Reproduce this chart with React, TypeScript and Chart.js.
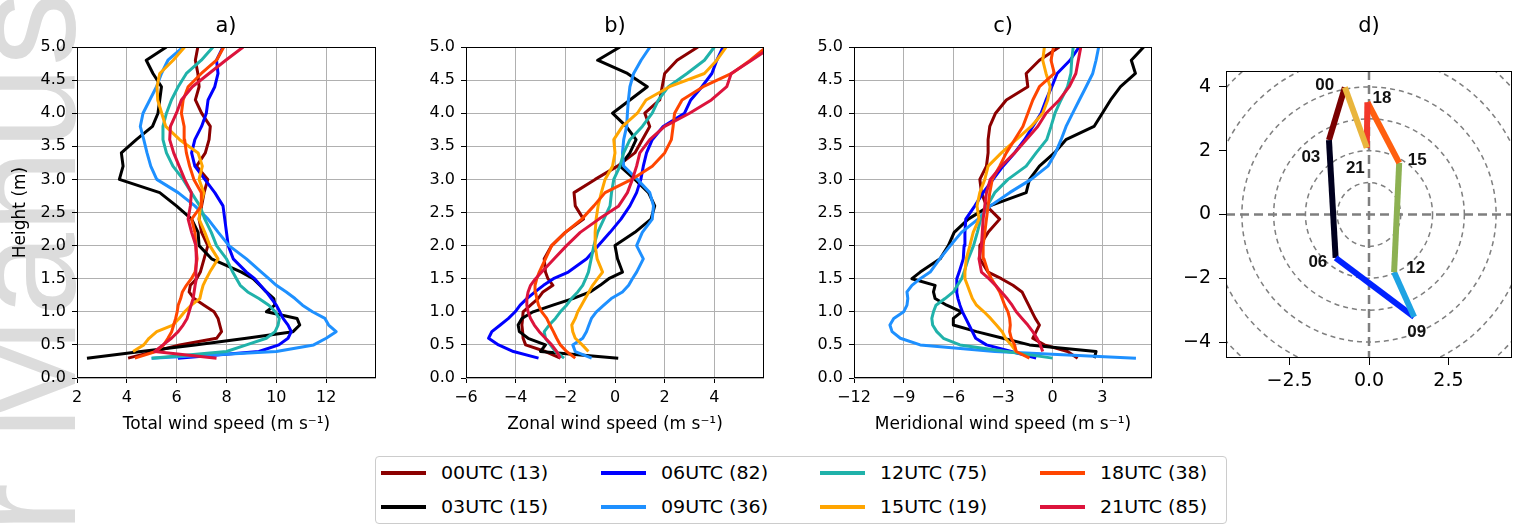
import React, { useEffect, useRef } from 'react';
import { Chart, registerables } from 'chart.js';

Chart.register(...registerables);

// ---------------- data ----------------
const heights = [0.3, 0.4, 0.5, 0.6, 0.7, 0.8, 0.9, 1.0, 1.1, 1.2, 1.3, 1.4, 1.5, 1.6, 1.8, 2.0, 2.2, 2.4, 2.6, 2.8, 3.0, 3.2, 3.4, 3.6, 3.8, 4.0, 4.2, 4.4, 4.6, 4.8, 5.0];
const yTickValues = [0, 0.5, 1, 1.5, 2, 2.5, 3, 3.5, 4, 4.5, 5];

const legendLabels = ['00UTC (13)', '03UTC (15)', '06UTC (82)', '09UTC (36)', '12UTC (75)', '15UTC (19)', '18UTC (38)', '21UTC (85)'];
const seriesColors = ['#8B0000', '#000000', '#0000FF', '#1E90FF', '#20B2AA', '#FFA500', '#FF4500', '#DC143C'];

// a) total wind speed
const tot00 = [4.05, 5.1, 6.12, 7.6, 7.8, 7.73, 7.66, 7.5, 7.1, 6.7, 6.5, 6.55, 6.8, 6.95, 7.1, 7.25, 7.0, 6.9, 7.0, 7.1, 7.25, 6.8, 7.15, 7.3, 7.35, 7.0, 6.75, 6.9, 6.85, 6.75, 6.85];
const tot03 = [2.4, 4.57, 6.74, 8.8, 10.67, 10.94, 10.83, 9.6, 9.94, 9.9, 9.6, 9.34, 9.07, 8.6, 7.4, 6.9, 6.86, 6.6, 5.99, 5.32, 3.7, 3.85, 3.78, 4.38, 5.03, 5.25, 5.32, 5.39, 5.05, 4.78, 5.59];
const tot06 = [6.05, 9.3, 10.1, 10.47, 10.6, 10.47, 10.27, 10.14, 10.0, 9.8, 9.6, 9.36, 9.13, 8.8, 8.27, 8.07, 8.0, 7.93, 7.86, 7.53, 7.13, 6.73, 6.6, 6.73, 7.0, 7.19, 7.26, 7.53, 7.66, 7.6, 7.86];
const tot09 = [4.99, 10.0, 11.5, 12.0, 12.4, 12.1, 11.95, 11.45, 11.05, 10.75, 10.4, 10.0, 9.7, 9.4, 8.8, 8.1, 7.67, 7.26, 6.73, 6.06, 5.2, 4.96, 4.81, 4.68, 4.54, 4.65, 4.92, 5.19, 5.39, 5.65, 6.26];
const tot12 = [5.0, 8.0, 8.8, 9.6, 9.95, 10.07, 10.12, 9.96, 9.7, 9.3, 8.85, 8.55, 8.4, 8.25, 8.0, 7.6, 7.39, 7.13, 6.93, 6.59, 6.26, 5.85, 5.59, 5.45, 5.45, 5.59, 5.79, 6.06, 6.39, 6.99, 7.46];
const tot15 = [null, 4.25, 4.68, 4.89, 5.2, 5.85, 6.1, 6.32, 6.59, 6.93, 6.99, 7.06, 7.19, 7.33, 7.66, 7.33, 7.13, 6.9, 6.95, 7.09, 6.9, 7.03, 6.86, 6.12, 5.56, 5.4, 5.24, 5.21, 5.32, 5.86, 6.32];
const tot18 = [4.32, 5.16, 5.48, 5.65, 5.8, 5.88, 5.96, 6.02, 6.06, 6.16, 6.23, 6.39, 6.59, 6.74, 6.82, 6.77, 6.73, 6.6, 6.99, 6.99, 6.69, 6.52, 6.39, 6.32, 6.3, 6.19, 6.26, 6.46, 6.99, 7.6, 7.89];
const tot21 = [7.6, 5.12, 5.45, 5.79, 6.06, 6.26, 6.42, 6.5, 6.58, 6.66, 6.7, 6.74, 6.79, 6.77, 6.79, 6.77, 6.6, 6.46, 6.55, 6.59, 6.32, 6.1, 5.88, 5.72, 5.75, 5.99, 6.19, 6.63, 7.3, 7.97, 8.67];

// b) zonal wind speed
const zon00 = [-2.2, -2.8, -3.6, -3.7, -3.72, -3.75, -3.72, -3.7, -3.4, -3.1, -2.9, -2.5, -2.7, -2.8, -2.85, -2.55, -2.0, -1.27, -1.6, -1.65, -0.8, 0.1, 0.8, 1.1, 1.4, 1.2, 1.8, 1.9, 2.0, 2.5, 3.34];
const zon03 = [0.13, -3.0, -2.8, -3.5, -3.85, -3.9, -3.75, -3.3, -2.5, -1.7, -1.0, -0.6, -0.25, 0.3, 0.1, 0.0, 0.8, 1.45, 1.6, 1.35, 0.8, 0.2, 0.6, 0.85, 0.45, -0.1, 0.6, 1.3, 0.5, -0.7, 0.2];
const zon06 = [-3.08, -4.09, -4.69, -5.09, -4.96, -4.62, -4.29, -4.02, -3.82, -3.55, -3.22, -2.88, -2.48, -1.88, -1.14, -0.67, -0.2, 0.24, 0.6, 0.87, 1.04, 1.14, 1.27, 1.5, 1.94, 2.8, 3.05, 3.5, 3.9, 4.1, 4.35];
const zon09 = [-0.94, -1.6, -1.7, -1.3, -1.15, -1.05, -0.95, -0.75, -0.45, -0.15, 0.3, 0.55, 0.7, 0.87, 1.14, 0.87, 1.1, 1.5, 1.55, 1.4, 0.9, 0.35, 0.3, 0.35, 0.47, 0.5, 0.54, 0.6, 0.75, 1.05, 1.41];
const zon12 = [-2.05, -2.4, -2.6, -2.8, -2.85, -2.65, -2.4, -2.2, -1.95, -1.75, -1.5, -1.3, -1.18, -1.07, -0.96, -0.85, -0.7, -0.45, -0.2, -0.14, -0.05, 0.2, 0.35, 0.6, 1.1, 1.5, 1.75, 2.15, 2.9, 3.6, 4.0];
const zon15 = [null, -1.07, -1.32, -1.6, -1.7, -1.74, -1.6, -1.5, -1.35, -1.2, -1.05, -0.9, -0.7, -0.5, -0.72, -0.8, -0.8, -0.76, -0.68, -0.55, -0.4, -0.1, 0.0, -0.05, 0.3, 0.9, 1.25, 2.2, 3.6, 4.1, 4.48];
const zon18 = [-1.6, -1.95, -2.2, -2.35, -2.48, -2.62, -2.75, -2.95, -3.08, -3.15, -3.2, -3.22, -3.15, -3.05, -2.8, -2.55, -2.0, -1.34, -0.85, -0.4, 0.67, 1.5, 2.0, 2.27, 2.34, 2.4, 2.7, 3.55, 4.7, 5.45, 6.1];
const zon21 = [-2.2, -2.35, -2.55, -2.8, -3.05, -3.25, -3.4, -3.5, -3.55, -3.55, -3.5, -3.4, -3.2, -2.95, -2.45, -1.95, -1.4, -0.65, 0.15, 0.5, 0.7, 0.87, 1.0, 1.4, 2.0, 3.0, 3.88, 4.5, 4.68, 5.5, 6.3];

// c) meridional wind speed
const mer00 = [1.51, 0.9, -0.5, -1.2, -1.0, -0.8, -1.05, -1.25, -1.45, -1.65, -1.85, -2.4, -3.1, -3.9, -4.4, -4.4, -3.9, -3.2, -4.0, -4.3, -4.4, -4.0, -3.9, -3.9, -3.8, -3.45, -2.8, -1.5, -1.6, -0.8, 0.4];
const mer03 = [2.52, 2.62, -1.4, -3.0, -4.6, -6.0, -6.0, -5.5, -6.4, -7.1, -7.2, -7.1, -8.5, -8.0, -6.8, -6.3, -5.95, -5.1, -3.8, -1.6, -1.4, -0.8, 0.1, 0.8, 2.5, 3.0, 3.5, 4.1, 5.0, 4.75, 5.5];
const mer06 = [-1.0, -2.5, -4.0, -4.65, -4.85, -5.05, -5.25, -5.45, -5.6, -5.72, -5.8, -5.8, -5.78, -5.65, -5.4, -5.35, -5.3, -5.25, -4.7, -4.2, -3.6, -3.0, -2.3, -1.7, -1.2, -0.7, -0.4, -0.05, 0.27, 1.05, 1.6];
const mer09 = [5.03, -3.5, -8.0, -9.2, -9.7, -9.83, -9.6, -9.0, -8.8, -8.75, -8.8, -8.5, -8.0, -7.4, -6.82, -6.18, -5.51, -4.51, -3.77, -2.6, -1.3, -0.29, 0.17, 0.51, 0.81, 1.21, 1.61, 2.02, 2.42, 2.62, 2.78];
const mer12 = [0.0, -2.8, -5.6, -6.6, -7.0, -7.25, -7.3, -7.2, -7.05, -6.5, -6.0, -5.75, -5.5, -5.35, -5.1, -4.78, -4.55, -4.35, -3.95, -3.5, -2.7, -1.6, -1.0, -0.36, -0.1, 0.14, 0.5, 0.9, 1.1, 1.15, 1.24];
const mer15 = [null, -2.2, -2.5, -2.85, -3.05, -3.4, -3.75, -4.15, -4.6, -4.85, -5.0, -5.15, -5.3, -5.3, -5.22, -5.0, -4.8, -4.45, -4.57, -4.4, -4.1, -3.9, -3.1, -2.2, -1.3, -0.6, -0.3, -0.15, -0.4, -0.6, -0.5];
const mer18 = [-1.4, -2.2, -2.3, -2.5, -2.6, -2.56, -2.6, -2.7, -2.9, -3.05, -3.2, -3.45, -3.7, -3.9, -4.15, -4.2, -4.1, -4.0, -3.9, -3.8, -3.65, -3.2, -2.8, -2.3, -1.8, -1.5, -1.2, -0.8, 0.1, -0.1, 0.05];
const mer21 = [null, -0.6, -0.75, -0.95, -1.2, -1.5, -1.85, -2.2, -2.45, -2.75, -3.1, -3.45, -3.85, -4.3, -4.45, -4.3, -4.25, -4.2, -4.1, -4.0, -3.77, -3.1, -2.3, -1.6, -0.9, -0.4, 0.4, 1.0, 1.4, 1.55, 1.7];

// d) hodograph of mean wind
const hodoHours = ['00', '03', '06', '09', '12', '15', '18', '21'];
const hodoU = [-0.76, -1.26, -1.05, 1.42, 0.79, 0.95, -0.05, -0.07];
const hodoV = [3.99, 2.33, -1.36, -3.21, -1.81, 1.62, 3.52, 2.09];
const hodoSegColors = ['#7a0000', '#00001e', '#0022ff', '#1ea3e3', '#8db152', '#ff5f0f', '#f2382a', '#e9b53c'];
const hodoLabelU = [-1.39, -1.83, -1.61, 1.5, 1.47, 1.52, 0.41, -0.43];
const hodoLabelV = [4.04, 1.79, -1.51, -3.71, -1.7, 1.69, 3.64, 1.46];
const ringRadii = [1, 2, 3, 4, 5, 6, 7];

// ---------------- helpers ----------------
const FONT = "'DejaVu Sans', sans-serif";
const minusFmt = (v: number, digits: number) => (v < 0 ? '\u2212' : '') + Math.abs(v).toFixed(digits);

const framePlugin = {
  id: 'frame',
  afterDatasetsDraw(chart: any) {
    const { ctx, chartArea } = chart;
    const l = Math.round(chartArea.left), t = Math.round(chartArea.top);
    const r = Math.round(chartArea.right), b = Math.round(chartArea.bottom);
    ctx.save();
    ctx.strokeStyle = '#000';
    ctx.lineWidth = 1;
    ctx.strokeRect(l + 0.5, t + 0.5, r - l - 1, b - t - 1);
    ctx.restore();
  },
};

function profileConfig(series: (number | null)[][], xMin: number, xMax: number, xTicks: number[], xTitle: string, yTitle: string | null, yAxisW: number, padRight: number): any {
  return {
    type: 'scatter',
    data: {
      datasets: series.map((arr, i) => ({
        label: legendLabels[i],
        data: heights.map((h, j) => (arr[j] == null ? null : { x: arr[j], y: h })).filter((p) => p !== null),
        showLine: true,
        borderColor: seriesColors[i],
        backgroundColor: seriesColors[i],
        borderWidth: 3,
        pointRadius: 0,
        pointHoverRadius: 0,
        tension: 0,
        borderJoinStyle: 'round',
        order: series.length - i,
      })),
    },
    options: {
      responsive: false,
      animation: false,
      devicePixelRatio: 1,
      events: [],
      layout: { padding: { top: 47, right: padRight, left: 0, bottom: 0 } },
      plugins: { legend: { display: false }, tooltip: { enabled: false } },
      scales: {
        x: {
          type: 'linear',
          min: xMin,
          max: xMax,
          afterBuildTicks: (s: any) => { s.ticks = xTicks.map((v) => ({ value: v })); },
          afterFit: (s: any) => { s.height = 62; },
          ticks: { callback: (v: any) => minusFmt(Number(v), 0), font: { family: FONT, size: 16 }, color: '#000', padding: 5, maxRotation: 0, autoSkip: false },
          grid: { color: '#b0b0b0', lineWidth: 1, tickLength: 5, tickColor: '#000', drawTicks: true },
          border: { display: false },
          title: { display: true, text: xTitle, font: { family: FONT, size: 17 }, color: '#000', padding: { top: 0, bottom: 5 } },
        },
        y: {
          type: 'linear',
          min: 0,
          max: 5,
          afterBuildTicks: (s: any) => { s.ticks = yTickValues.map((v) => ({ value: v })); },
          afterFit: (s: any) => { s.width = yAxisW; },
          ticks: { callback: (v: any) => Number(v).toFixed(1), font: { family: FONT, size: 16 }, color: '#000', padding: 6, autoSkip: false },
          grid: { color: '#b0b0b0', lineWidth: 1, tickLength: 5, tickColor: '#000', drawTicks: true },
          border: { display: false },
          title: yTitle
            ? { display: true, text: yTitle, font: { family: FONT, size: 17 }, color: '#000', padding: { top: 10, bottom: 0 } }
            : { display: false },
        },
      },
    },
    plugins: [framePlugin],
  };
}

const hodoBackdrop = {
  id: 'hodoBackdrop',
  beforeDatasetsDraw(chart: any) {
    const { ctx, chartArea: a, scales } = chart;
    const xs = scales.x, ys = scales.y;
    const cx = xs.getPixelForValue(0), cy = ys.getPixelForValue(0);
    ctx.save();
    ctx.beginPath();
    ctx.rect(a.left, a.top, a.right - a.left, a.bottom - a.top);
    ctx.clip();
    ctx.strokeStyle = '#7f7f7f';
    ctx.lineWidth = 1.5;
    ctx.setLineDash([5, 4]);
    for (const r of ringRadii) {
      const rx = xs.getPixelForValue(r) - cx;
      const ry = cy - ys.getPixelForValue(r);
      ctx.beginPath();
      ctx.ellipse(cx, cy, rx, ry, 0, 0, Math.PI * 2);
      ctx.stroke();
    }
    ctx.lineWidth = 2.5;
    ctx.setLineDash([9, 5]);
    ctx.beginPath();
    ctx.moveTo(a.left, cy);
    ctx.lineTo(a.right, cy);
    ctx.moveTo(cx, a.top);
    ctx.lineTo(cx, a.bottom);
    ctx.stroke();
    ctx.restore();
  },
};

const hodoLabels = {
  id: 'hodoLabels',
  afterDatasetsDraw(chart: any) {
    const { ctx, scales } = chart;
    ctx.save();
    ctx.font = "bold 17px 'Liberation Sans', sans-serif";
    ctx.fillStyle = '#111';
    ctx.textAlign = 'center';
    ctx.textBaseline = 'middle';
    hodoHours.forEach((h, i) => {
      ctx.fillText(h, scales.x.getPixelForValue(hodoLabelU[i]), scales.y.getPixelForValue(hodoLabelV[i]));
    });
    ctx.restore();
  },
};

function hodoConfig(): any {
  const n = hodoHours.length;
  return {
    type: 'scatter',
    data: {
      datasets: hodoHours.map((h, i) => ({
        label: h,
        data: [
          { x: hodoU[i], y: hodoV[i] },
          { x: hodoU[(i + 1) % n], y: hodoV[(i + 1) % n] },
        ],
        showLine: true,
        borderColor: hodoSegColors[i],
        backgroundColor: hodoSegColors[i],
        borderWidth: 6,
        borderCapStyle: 'butt',
        pointRadius: 0,
        pointHoverRadius: 0,
        order: n - i,
      })),
    },
    options: {
      responsive: false,
      animation: false,
      devicePixelRatio: 1,
      events: [],
      layout: { padding: { top: 71, right: 9, left: 0, bottom: 0 } },
      plugins: { legend: { display: false }, tooltip: { enabled: false } },
      scales: {
        x: {
          type: 'linear', min: -4.5, max: 4.5,
          afterBuildTicks: (s: any) => { s.ticks = [-2.5, 0, 2.5].map((v) => ({ value: v })); },
          afterFit: (s: any) => { s.height = 82; },
          ticks: { callback: (v: any) => minusFmt(Number(v), 1), font: { family: FONT, size: 19 }, color: '#000', padding: 5, maxRotation: 0, autoSkip: false },
          grid: { drawOnChartArea: false, tickLength: 7, tickColor: '#000', drawTicks: true, lineWidth: 1 },
          border: { display: false },
        },
        y: {
          type: 'linear', min: -4.5, max: 4.5,
          afterBuildTicks: (s: any) => { s.ticks = [-4, -2, 0, 2, 4].map((v) => ({ value: v })); },
          afterFit: (s: any) => { s.width = 61; },
          ticks: { callback: (v: any) => minusFmt(Number(v), 0), font: { family: FONT, size: 19 }, color: '#000', padding: 8, autoSkip: false },
          grid: { drawOnChartArea: false, tickLength: 7, tickColor: '#000', drawTicks: true, lineWidth: 1 },
          border: { display: false },
        },
      },
    },
    plugins: [hodoBackdrop, framePlugin, hodoLabels],
  };
}

const panelTitles = [
  { text: 'a)', cx: 226 },
  { text: 'b)', cx: 615 },
  { text: 'c)', cx: 1003 },
  { text: 'd)', cx: 1369 },
];
const legendColX = [5, 225, 444, 664];
const legendRowY = [16, 50];

export default function App() {
  const aRef = useRef<HTMLCanvasElement>(null);
  const bRef = useRef<HTMLCanvasElement>(null);
  const cRef = useRef<HTMLCanvasElement>(null);
  const dRef = useRef<HTMLCanvasElement>(null);

  useEffect(() => {
    const charts = [
      new Chart(aRef.current as HTMLCanvasElement, profileConfig([tot00, tot03, tot06, tot09, tot12, tot15, tot18, tot21], 2, 14, [2, 4, 6, 8, 10, 12], 'Total wind speed (m s\u207B\u00B9)', 'Height (m)', 77, 9)),
      new Chart(bRef.current as HTMLCanvasElement, profileConfig([zon00, zon03, zon06, zon09, zon12, zon15, zon18, zon21], -6, 6, [-6, -4, -2, 0, 2, 4], 'Zonal wind speed (m s\u207B\u00B9)', null, 76, 6)),
      new Chart(cRef.current as HTMLCanvasElement, profileConfig([mer00, mer03, mer06, mer09, mer12, mer15, mer18, mer21], -12, 6, [-12, -9, -6, -3, 0, 3], 'Meridional wind speed (m s\u207B\u00B9)', null, 79, 8)),
      new Chart(dRef.current as HTMLCanvasElement, hodoConfig()),
    ];
    return () => charts.forEach((c) => c.destroy());
  }, []);

  return (
    <div style={{ position: 'absolute', left: 0, top: 0, width: 1521, height: 525, overflow: 'hidden', background: '#fff' }}>
      <div
        style={{
          position: 'absolute', left: -52, top: 925, transform: 'rotate(-90deg)', transformOrigin: '0 0',
          fontFamily: "'Liberation Sans', sans-serif", fontSize: 150, lineHeight: 1, color: '#dcdcdc', whiteSpace: 'nowrap',
        }}
      >
        Author Manuscript
      </div>
      <canvas ref={aRef} width={385} height={440} style={{ position: 'absolute', left: 0, top: 0 }} />
      <canvas ref={bRef} width={380} height={440} style={{ position: 'absolute', left: 390, top: 0 }} />
      <canvas ref={cRef} width={385} height={440} style={{ position: 'absolute', left: 775, top: 0 }} />
      <canvas ref={dRef} width={356} height={440} style={{ position: 'absolute', left: 1165, top: 0 }} />
      {panelTitles.map((t) => (
        <div key={t.text} style={{ position: 'absolute', left: t.cx - 50, width: 100, top: 12, height: 26, lineHeight: '26px', textAlign: 'center', fontFamily: FONT, fontSize: 21, color: '#000' }}>
          {t.text}
        </div>
      ))}
      <div style={{ position: 'absolute', left: 375, top: 456, width: 852, height: 68, border: '1px solid #cccccc', borderRadius: 4, boxSizing: 'border-box', background: '#fff' }}>
        {legendLabels.map((lab, i) => {
          const col = Math.floor(i / 2);
          const row = i % 2;
          const hx = legendColX[col];
          const cy = legendRowY[row];
          return (
            <React.Fragment key={lab}>
              <div style={{ position: 'absolute', left: hx, top: cy - 2, width: 45, height: 4, background: seriesColors[i] }} />
              <div style={{ position: 'absolute', left: hx + 60, top: cy - 11, height: 22, lineHeight: '22px', fontFamily: FONT, fontSize: 17, color: '#000', whiteSpace: 'nowrap', transform: 'scaleX(1.12)', transformOrigin: '0 50%' }}>
                {lab}
              </div>
            </React.Fragment>
          );
        })}
      </div>
    </div>
  );
}
